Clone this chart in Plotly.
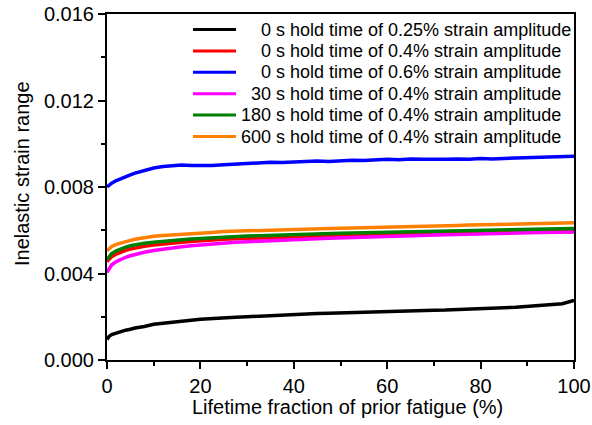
import plotly.graph_objects as go

# Lifetime fraction of prior fatigue (%)
x = [0, 0.5, 1, 2, 3, 4, 5, 6, 8, 10, 12, 14, 16, 18,
     20, 22.5, 25, 27.5, 30, 32.5, 35, 37.5, 40, 42.5, 45, 47.5, 50,
     52.5, 55, 57.5, 60, 62.5, 65, 67.5, 70, 72.5, 75, 77.5, 80,
     82.5, 85, 87.5, 90, 92.5, 95, 97.5, 100]

black_025 = [0.00095, 0.00110, 0.00118, 0.00126, 0.00132, 0.00138, 0.00142, 0.00148, 0.00155, 0.00165,
             0.00170, 0.00176, 0.00180, 0.00184, 0.00188, 0.00192, 0.00196, 0.00198, 0.00200, 0.00203,
             0.00205, 0.00208, 0.00212, 0.00213, 0.00215, 0.00216, 0.00218, 0.00219, 0.00221, 0.00222,
             0.00224, 0.00224, 0.00226, 0.00228, 0.00230, 0.00231, 0.00234, 0.00236, 0.00238, 0.00240,
             0.00242, 0.00244, 0.00247, 0.00250, 0.00254, 0.00260, 0.00276]

red_04 = [0.00455, 0.00468, 0.00478, 0.00490, 0.00500, 0.00507, 0.00513, 0.00518, 0.00526, 0.00532,
          0.00537, 0.00541, 0.00545, 0.00548, 0.00552, 0.00555, 0.00558, 0.00561, 0.00563, 0.00565,
          0.00567, 0.00569, 0.00571, 0.00572, 0.00574, 0.00575, 0.00576, 0.00577, 0.00578, 0.00579,
          0.00580, 0.00581, 0.00582, 0.00583, 0.00584, 0.00585, 0.00585, 0.00586, 0.00587, 0.00588,
          0.00589, 0.00590, 0.00591, 0.00591, 0.00592, 0.00593, 0.00594]

blue_06 = [0.00800, 0.00810, 0.00818, 0.00830, 0.00840, 0.00848, 0.00856, 0.00864, 0.00878, 0.00888,
           0.00895, 0.00900, 0.00902, 0.00900, 0.00899, 0.00899, 0.00903, 0.00906, 0.00910, 0.00912,
           0.00914, 0.00913, 0.00916, 0.00918, 0.00920, 0.00918, 0.00922, 0.00924, 0.00922, 0.00926,
           0.00928, 0.00926, 0.00930, 0.00928, 0.00926, 0.00928, 0.00930, 0.00928, 0.00932, 0.00930,
           0.00932, 0.00934, 0.00936, 0.00938, 0.00940, 0.00942, 0.00942]

magenta_30s = [0.00405, 0.00425, 0.00440, 0.00455, 0.00466, 0.00475, 0.00482, 0.00488, 0.00498, 0.00506,
               0.00513, 0.00519, 0.00524, 0.00528, 0.00532, 0.00536, 0.00540, 0.00544, 0.00547, 0.00550,
               0.00553, 0.00555, 0.00557, 0.00559, 0.00561, 0.00563, 0.00565, 0.00567, 0.00569, 0.00570,
               0.00572, 0.00573, 0.00575, 0.00576, 0.00578, 0.00579, 0.00580, 0.00582, 0.00583, 0.00584,
               0.00586, 0.00587, 0.00588, 0.00589, 0.00590, 0.00591, 0.00592]

green_180s = [0.00465, 0.00480, 0.00492, 0.00505, 0.00515, 0.00522, 0.00528, 0.00533, 0.00540, 0.00545,
              0.00550, 0.00553, 0.00556, 0.00559, 0.00562, 0.00565, 0.00568, 0.00571, 0.00573, 0.00575,
              0.00577, 0.00579, 0.00580, 0.00582, 0.00583, 0.00584, 0.00586, 0.00587, 0.00588, 0.00590,
              0.00591, 0.00592, 0.00594, 0.00596, 0.00597, 0.00598, 0.00599, 0.00600, 0.00601, 0.00602,
              0.00603, 0.00604, 0.00605, 0.00606, 0.00607, 0.00608, 0.00608]

orange_600s = [0.00505, 0.00515, 0.00525, 0.00535, 0.00542, 0.00548, 0.00553, 0.00558, 0.00566, 0.00572,
               0.00576, 0.00578, 0.00582, 0.00585, 0.00588, 0.00590, 0.00594, 0.00596, 0.00598, 0.00600,
               0.00601, 0.00603, 0.00604, 0.00606, 0.00607, 0.00608, 0.00609, 0.00610, 0.00611, 0.00612,
               0.00613, 0.00614, 0.00616, 0.00618, 0.00620, 0.00621, 0.00622, 0.00624, 0.00625, 0.00626,
               0.00627, 0.00628, 0.00630, 0.00631, 0.00632, 0.00634, 0.00635]

FS = "\u2007"  # figure space (digit width) for legend alignment
names = [FS * 2 + "0 s hold time of 0.25% strain amplitude",
         FS * 2 + "0 s hold time of 0.4% strain amplitude",
         FS * 2 + "0 s hold time of 0.6% strain amplitude",
         FS + "30 s hold time of 0.4% strain amplitude",
         "180 s hold time of 0.4% strain amplitude",
         "600 s hold time of 0.4% strain amplitude"]
series = [black_025, red_04, blue_06, magenta_30s, green_180s, orange_600s]
colors = ["#000000", "#ff0000", "#0000ff", "#ff00ff", "#008000", "#ff8000"]
x_title = "Lifetime fraction of prior fatigue (%)"
y_title = "Inelastic strain range"

font_family = "Arial, Liberation Sans, sans-serif"

fig = go.Figure()
for n, s, c in zip(names, series, colors):
    fig.add_trace(go.Scatter(x=x, y=s, mode="lines", name=n,
                             line=dict(color=c, width=3.5), showlegend=False))

ML, MR, MT, MB, W, H = 107, 18, 14, 65, 592, 425
pw, ph = W - ML - MR, H - MT - MB


def px2paper(px, py):
    return (px - ML) / pw, (H - MB - py) / ph


# Manual legend (compact row spacing like the original)
row0, row_step = 29.5, 21.4
line_x0, line_x1, text_x = 193, 236, 239
for i, (n, c) in enumerate(zip(names, colors)):
    py = row0 + i * row_step
    xa, yp = px2paper(line_x0, py)
    xb, _ = px2paper(line_x1, py)
    xt, _ = px2paper(text_x, py)
    fig.add_shape(type="line", xref="paper", yref="paper",
                  x0=xa, x1=xb, y0=yp, y1=yp, line=dict(color=c, width=3))
    fig.add_annotation(xref="paper", yref="paper", x=xt, y=yp,
                       xanchor="left", yanchor="middle", text=n, showarrow=False,
                       font=dict(family=font_family, size=18, color="black"))

# Axis titles placed like the original
tx, ty = px2paper(347, 407)
fig.add_annotation(xref="paper", yref="paper", x=tx, y=ty, xanchor="center", yanchor="middle",
                   text=x_title, showarrow=False,
                   font=dict(family=font_family, size=20, color="black"))
tx, ty = px2paper(22, 174)
fig.add_annotation(xref="paper", yref="paper", x=tx, y=ty, xanchor="center", yanchor="middle",
                   text=y_title, showarrow=False, textangle=-90,
                   font=dict(family=font_family, size=20, color="black"))

axis_common = dict(showline=True, linecolor="black", linewidth=2, mirror=True,
                   ticks="outside", ticklen=7, tickwidth=1.5, tickcolor="black",
                   showgrid=False, zeroline=False, automargin=False,
                   tickfont=dict(family=font_family, size=20, color="black"))

fig.update_layout(
    width=W, height=H,
    margin=dict(l=ML, r=MR, t=MT, b=MB),
    paper_bgcolor="white", plot_bgcolor="white",
    font=dict(family=font_family, color="black"),
    showlegend=False,
    xaxis=dict(range=[0, 100], tickvals=[0, 20, 40, 60, 80, 100],
               minor=dict(ticks="outside", ticklen=4, tickwidth=1.5, tickcolor="black",
                          tickvals=[10, 30, 50, 70, 90]),
               **axis_common),
    yaxis=dict(range=[0, 0.016], tickvals=[0, 0.004, 0.008, 0.012, 0.016],
               tickformat=".3f",
               minor=dict(ticks="outside", ticklen=4, tickwidth=1.5, tickcolor="black",
                          tickvals=[0.002, 0.006, 0.010, 0.014]),
               **axis_common),
)

fig.write_html("out.html")
